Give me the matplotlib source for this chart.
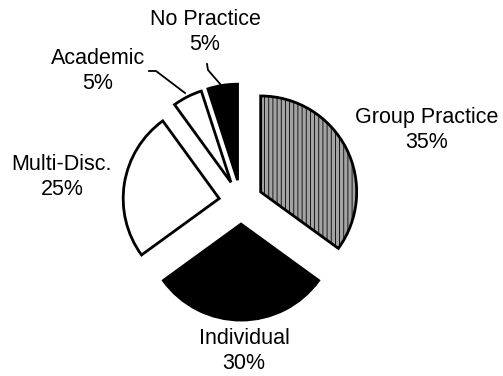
import matplotlib
matplotlib.use("Agg")
import matplotlib.pyplot as plt

labels = ["Group Practice", "Individual", "Multi-Disc.", "Academic", "No Practice"]
values = [35, 30, 25, 5, 5]
colors = ["#a3a3a3", "black", "white", "white", "black"]
hatches = ["||||", None, None, None, None]

plt.rcParams['font.family'] = ['Liberation Sans', 'DejaVu Sans']
plt.rcParams['hatch.color'] = '#666666'
plt.rcParams['hatch.linewidth'] = 0.6

W, H = 503, 376
fig = plt.figure(figsize=(W / 100, H / 100), dpi=100)
ax = fig.add_axes([0, 0, 1, 1])

# pixel mapping: centre at (241, 202) px, radius 96 px
cx, cy, R = 241, 202, 96.0
def px(x, y):
    return ((x - cx) / R, (cy - y) / R)

wedges, _ = ax.pie(values, colors=colors, startangle=90, counterclock=False,
                   explode=[0.23] * len(values), radius=1.0,
                   wedgeprops=dict(edgecolor="black", linewidth=2.0))
for w, h in zip(wedges, hatches):
    if h:
        w.set_hatch(h)

ax.set_xlim(-cx / R, (W - cx) / R)
ax.set_ylim((cy - H) / R, cy / R)
ax.set_aspect('equal')
ax.axis('off')

label_pos = [(427, 130), (244, 351), (62, 177), (98, 71), (205, 32)]
for lab, v, (x, y) in zip(labels, values, label_pos):
    tx, ty = px(x, y)
    ax.text(tx, ty, f"{lab}\n{v}%", ha='center', va='center', fontsize=15.5,
            linespacing=1.28, color='black')

# leader lines
for pts in ([(149, 71), (156, 71), (185, 93)], [(207, 64), (208, 70), (221, 85)]):
    xs, ys = zip(*[px(x, y) for x, y in pts])
    ax.plot(xs, ys, color='black', lw=1.3)

fig.savefig("out.png", dpi=100)
